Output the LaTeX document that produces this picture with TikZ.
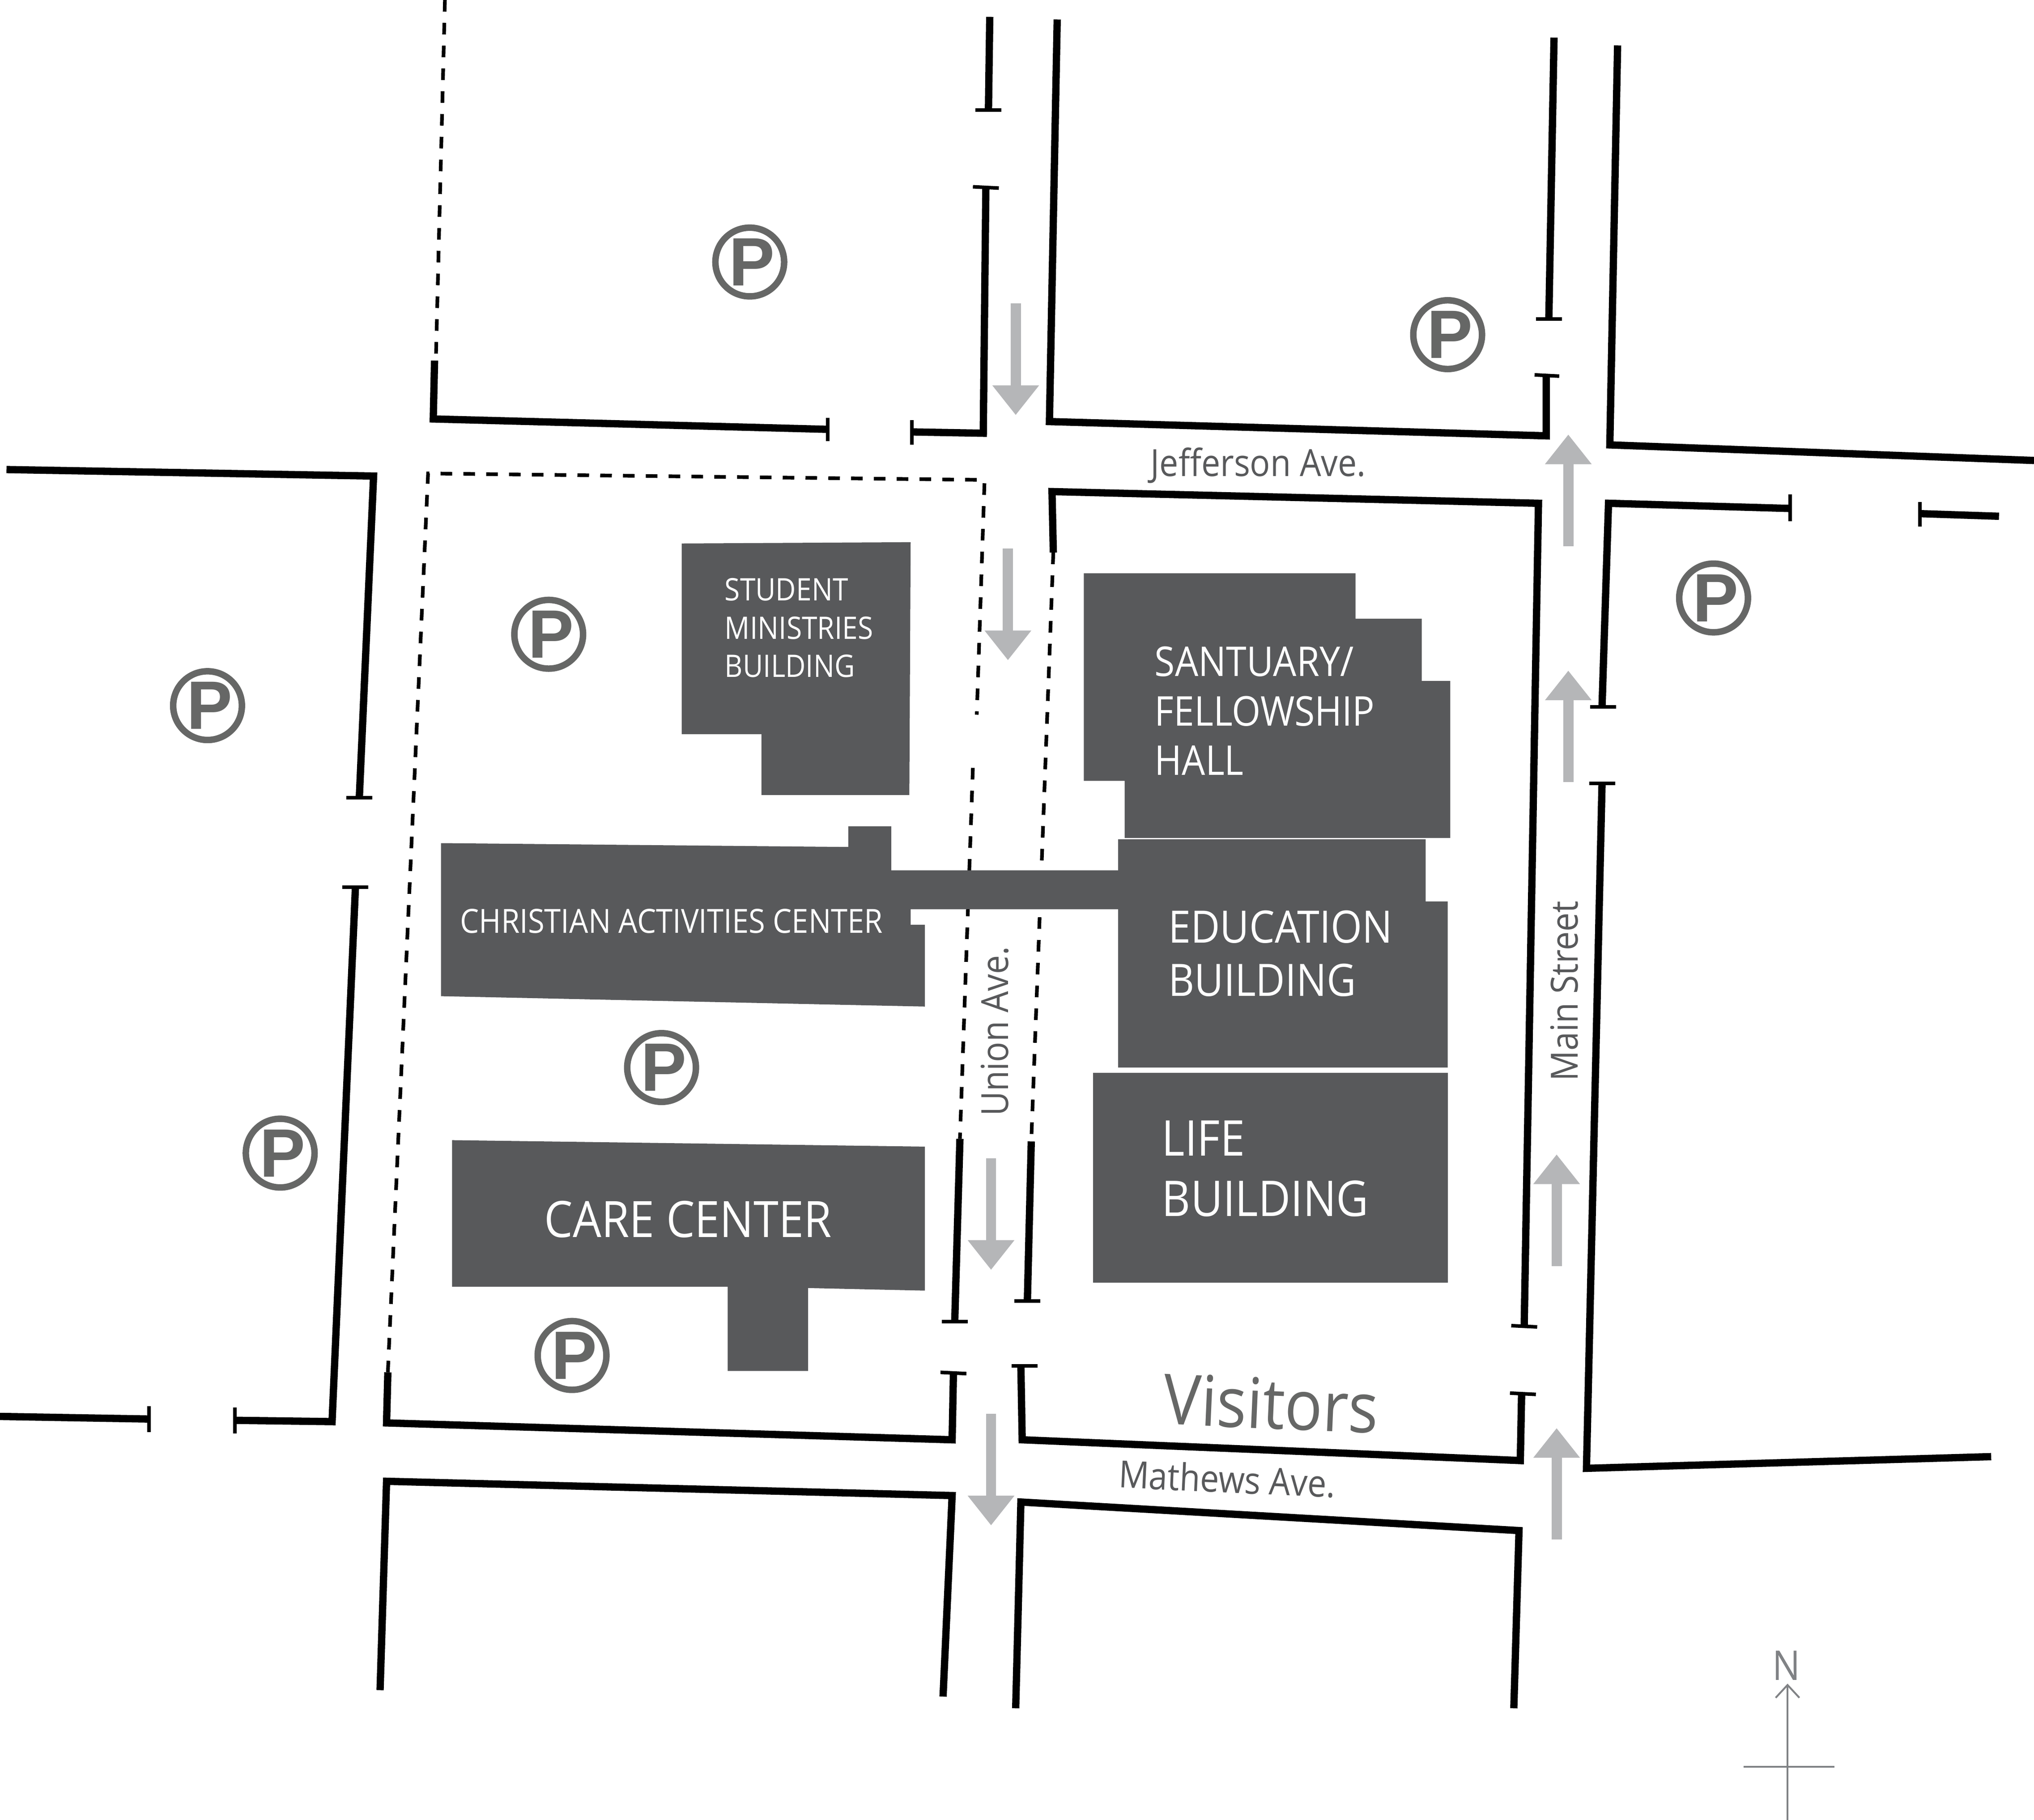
\documentclass[tikz,border=0pt]{standalone}
\usepackage{fontspec}
\setmainfont[FakeStretch=0.9]{Open Sans}
\newfontfamily\parkfont{Liberation Sans}
\usetikzlibrary{arrows.meta}
\definecolor{bldg}{HTML}{58595B}
\definecolor{parkgray}{HTML}{666766}
\definecolor{arrowgray}{HTML}{B5B6B8}
\definecolor{compass}{HTML}{808285}
\tikzset{
    curb/.style={line width=1.6pt,black},
    curbend/.style={line width=0.78pt,black},
    lot/.style={line width=0.8pt,black,dash pattern=on 2.55pt off 2.45pt},
    bldgshape/.style={fill=bldg,draw=none},
    flow/.style={draw=arrowgray,line width=2.25pt,-{Triangle[length=6.5pt,width=9.8pt,fill=arrowgray]}},
    parking/.style={circle,draw=parkgray,line width=1.42pt,minimum size=14pt,inner sep=0pt,text=parkgray,font=\parkfont\fontsize{15}{15}\selectfont\bfseries},
    roadname/.style={text=bldg,inner sep=0pt,font=\fontsize{8.2}{10}\selectfont},
    bldgname/.style={text=white,align=left,anchor=west,inner sep=0pt},
}
\begin{document}
\begin{tikzpicture}[x=0.01cm,y=-0.01cm]
    \useasboundingbox (0,0) rectangle (1568,1403);

    % lot lines
    \draw [lot] (343,0) -- (336,278);
    \draw [lot] (299,1058) -- (330,365) -- (759,370) -- (753,551);
    \draw [lot] (750,592) -- (740,878);
    \draw [lot] (812,426) -- (795,880);

    % buildings
    \path [bldgshape] (525.5,419) -- (702,418) -- (701,613) -- (587,613) -- (587,566) -- (525.5,566) -- cycle;
    \path [bldgshape] (835.5,442) -- (1045,442) -- (1045,477) -- (1096,477) -- (1096,525) -- (1118,525) -- (1118,646) -- (867,646) -- (867,602) -- (835.5,602) -- cycle;
    \path [bldgshape] (340,650) -- (654,653) -- (654,637) -- (687,637) -- (687,671) -- (862,671) -- (862,647) -- (1099,647) -- (1099,695) -- (1116,695) -- (1116,823) -- (862,823) -- (862,701) -- (702,701) -- (702,713) -- (713,713) -- (713,776) -- (340,768) -- cycle;
    \path [bldgshape] (842.5,827) -- (1116,827) -- (1116,989) -- (842.5,989) -- cycle;
    \path [bldgshape] (348.5,879) -- (713,884) -- (713,995) -- (623,993) -- (623,1057) -- (561,1057) -- (561,992) -- (348.5,992) -- cycle;

    \node (student) [bldgname,font=\fontsize{6.8}{8.4}\selectfont] at (558,484) {STUDENT\\MINISTRIES\\BUILDING};
    \node (santuary) [bldgname,font=\fontsize{9}{10.8}\selectfont] at (889.5,548) {SANTUARY/\\FELLOWSHIP\\HALL};
    \node (cac) [bldgname,font=\fontsize{7.3}{8}\selectfont] at (354,710) {CHRISTIAN ACTIVITIES CENTER};
    \node (education) [bldgname,font=\fontsize{9.8}{11.7}\selectfont] at (900,735) {EDUCATION\\BUILDING};
    \node (life) [bldgname,font=\fontsize{10.8}{13.2}\selectfont] at (895,901) {LIFE\\BUILDING};
    \node (care) [bldgname,font=\fontsize{11}{13}\selectfont] at (419,940) {CARE CENTER};

    % street edges
    \draw [curb] (5,362) -- (288,367) -- (277,615);
    \draw [curbend] (267,615) -- (287,615);
    \draw [curbend] (264,684) -- (284,684);
    \draw [curb] (274,684) -- (256,1096) -- (181,1095);
    \draw [curbend] (181,1085) -- (181,1105);
    \draw [curb] (0,1092) -- (115,1094);
    \draw [curbend] (115,1084) -- (115,1104);

    \draw [curb] (335,278) -- (334,323) -- (638,331);
    \draw [curbend] (638,322) -- (638,340);
    \draw [curbend] (703,324) -- (703,343);
    \draw [curb] (703,333) -- (758,334) -- (760,144);
    \draw [curbend] (750,144) -- (770,145);
    \draw [curbend] (752,85) -- (772,85);
    \draw [curb] (762,85) -- (763,13);

    \draw [curb] (815,15) -- (809,325) -- (1192,336) -- (1192,289);
    \draw [curbend] (1183,289) -- (1202,290);
    \draw [curbend] (1184,246) -- (1204,246);
    \draw [curb] (1194,246) -- (1198,29);

    \draw [curb] (1247,35) -- (1241,343) -- (1568,355);
    \draw [curbend] (1380,381) -- (1380,402);
    \draw [curb] (1235,545) -- (1240,388) -- (1380,392);
    \draw [curbend] (1226,545) -- (1246,545);
    \draw [curbend] (1480,387) -- (1480,406);
    \draw [curb] (1480,396) -- (1541,398);
    \draw [curbend] (1225,604) -- (1245,604);
    \draw [curb] (1235,604) -- (1223,1132) -- (1535,1123);

    \draw [curb] (812,426) -- (811,379) -- (1186,388) -- (1175,1022);
    \draw [curbend] (1165,1022) -- (1185,1023);
    \draw [curbend] (1164,1074) -- (1184,1075);
    \draw [curb] (1173,1075) -- (1172,1126) -- (788,1110) -- (787,1053);
    \draw [curbend] (780,1053) -- (800,1053);
    \draw [curb] (795,880) -- (792,1003);
    \draw [curbend] (782,1003) -- (802,1003);
    \draw [curb] (740,878) -- (736,1019);
    \draw [curbend] (726,1019) -- (746,1019);
    \draw [curbend] (725,1058) -- (745,1059);
    \draw [curb] (735,1059) -- (734,1110) -- (298,1097) -- (299,1058);

    \draw [curb] (293,1303) -- (298,1142) -- (734,1153) -- (727,1308);
    \draw [curb] (783,1317) -- (787,1158) -- (1171,1180) -- (1167,1317);

    % traffic
    \draw [flow] (783,234) -- (783,320);
    \draw [flow] (777,423) -- (777,509);
    \draw [flow] (764,893) -- (764,979);
    \draw [flow] (764,1090) -- (764,1176);
    \draw [flow] (1209,421) -- (1209,335);
    \draw [flow] (1209,603) -- (1209,517);
    \draw [flow] (1200,976) -- (1200,890);
    \draw [flow] (1200,1187) -- (1200,1101);

    % parking
    \foreach \x/\y in {578/202,1116/258,423/489,1321/461,160/544,510/823,216/889,441/1045}{
        \node [parking] at (\x,\y) {\kern1pt P};
    }

    % streets
    \node (jefferson) [roadname] at (970,359) {Jefferson Ave.};
    \node (mathews) [roadname,rotate=-2.7] at (946,1140) {Mathews Ave.};
    \node (union) [roadname,rotate=90] at (767,795) {Union Ave.};
    \node (main) [roadname,rotate=90] at (1206,764) {Main Street};
    \node (visitors) [text=parkgray,inner sep=0pt,rotate=-2.5,font=\fontsize{15.3}{17}\selectfont] at (980,1082) {Visitors};

    % north
    \coordinate (ntop) at (1378,1298);
    \coordinate (nbot) at (1378,1403);
    \coordinate (nleft) at (1344,1362);
    \coordinate (nright) at (1414,1362);
    \node (north) [text=compass,inner sep=0pt,font=\fontsize{9}{11}\selectfont] at (1377,1284) {N};
    \draw [compass,line width=0.4pt,-{Straight Barb[length=2.8pt,width=5.2pt]}] (nbot) -- (ntop);
    \draw [compass,line width=0.4pt] (nleft) -- (nright);
\end{tikzpicture}
\end{document}
